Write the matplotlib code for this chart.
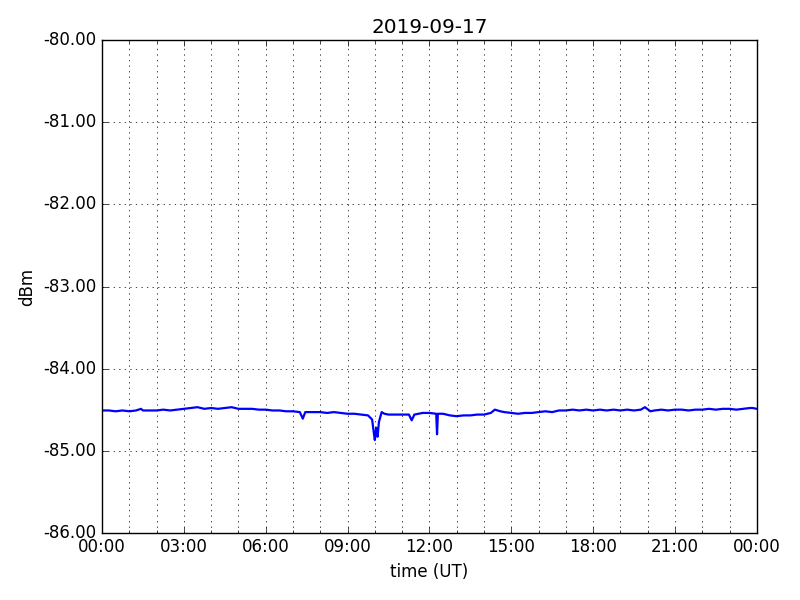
import matplotlib
matplotlib.use("Agg")
import matplotlib.pyplot as plt
import matplotlib.dates as mdates
from matplotlib.ticker import FormatStrFormatter
import datetime as dt

plt.style.use("classic")

date_label = "2019-09-17"
hours = [0.00, 0.25, 0.50, 0.75, 1.00, 1.25, 1.43, 1.50, 1.75, 2.00, 2.25, 2.50, 2.75,
         3.00, 3.25, 3.50, 3.75, 4.00, 4.25, 4.50, 4.75, 5.00, 5.25, 5.50, 5.75,
         6.00, 6.25, 6.50, 6.75, 7.00, 7.25, 7.36, 7.45, 7.75, 8.00, 8.25, 8.50, 8.75,
         9.00, 9.25, 9.50, 9.75, 9.90, 9.97, 10.00, 10.05, 10.10, 10.15, 10.25, 10.35,
         10.50, 10.75, 11.00, 11.25, 11.35, 11.45, 11.75, 12.00, 12.25, 12.28, 12.31,
         12.50, 12.75, 13.00, 13.25, 13.50, 13.75, 14.00, 14.25, 14.40, 14.60, 14.75,
         15.00, 15.25, 15.50, 15.75, 16.00, 16.25, 16.50, 16.75, 17.00, 17.25, 17.50,
         17.75, 18.00, 18.25, 18.50, 18.75, 19.00, 19.25, 19.50, 19.75, 19.90, 20.10,
         20.25, 20.50, 20.75, 21.00, 21.25, 21.50, 21.75, 22.00, 22.25, 22.50, 22.75,
         23.00, 23.25, 23.50, 23.75, 23.85, 24.00]
dbm = [-84.51, -84.51, -84.52, -84.51, -84.52, -84.51, -84.49, -84.51, -84.51, -84.51, -84.50, -84.51, -84.50,
       -84.49, -84.48, -84.47, -84.49, -84.48, -84.49, -84.48, -84.47, -84.49, -84.49, -84.49, -84.50,
       -84.50, -84.51, -84.51, -84.52, -84.52, -84.53, -84.61, -84.53, -84.53, -84.53, -84.54, -84.53, -84.54,
       -84.55, -84.55, -84.56, -84.57, -84.62, -84.80, -84.87, -84.72, -84.83, -84.65, -84.53, -84.55,
       -84.56, -84.56, -84.56, -84.56, -84.63, -84.56, -84.54, -84.54, -84.55, -84.80, -84.55,
       -84.55, -84.57, -84.58, -84.57, -84.57, -84.56, -84.56, -84.54, -84.50, -84.52, -84.53,
       -84.54, -84.55, -84.54, -84.54, -84.53, -84.52, -84.53, -84.51, -84.51, -84.50, -84.51,
       -84.50, -84.51, -84.50, -84.51, -84.50, -84.51, -84.50, -84.51, -84.50, -84.47, -84.52,
       -84.51, -84.50, -84.51, -84.50, -84.50, -84.51, -84.50, -84.50, -84.49, -84.50, -84.49,
       -84.49, -84.50, -84.49, -84.48, -84.48, -84.49]

start = dt.datetime(2019, 9, 17)
times = [start + dt.timedelta(hours=h) for h in hours]

fig = plt.figure(figsize=(8, 6), dpi=100, facecolor="white")
ax = fig.add_subplot(111)
fig.subplots_adjust(left=0.1275, right=0.946, top=0.933, bottom=0.112)

ax.plot(times, dbm, color="b", linewidth=1.6)
ax.set_xlim(start, start + dt.timedelta(days=1))
ax.set_ylim(-86, -80)
ax.xaxis.set_major_locator(mdates.HourLocator(byhour=range(0, 24, 3)))
ax.xaxis.set_minor_locator(mdates.HourLocator())
ax.xaxis.set_major_formatter(mdates.DateFormatter("%H:%M"))
ax.yaxis.set_major_formatter(FormatStrFormatter("%.2f"))
ax.grid(True, which="both", linestyle=":", color="k")
ax.set_title(date_label)
ax.set_xlabel("time (UT)")
ax.set_ylabel("dBm")

fig.savefig("out.png", dpi=100, facecolor="white")
